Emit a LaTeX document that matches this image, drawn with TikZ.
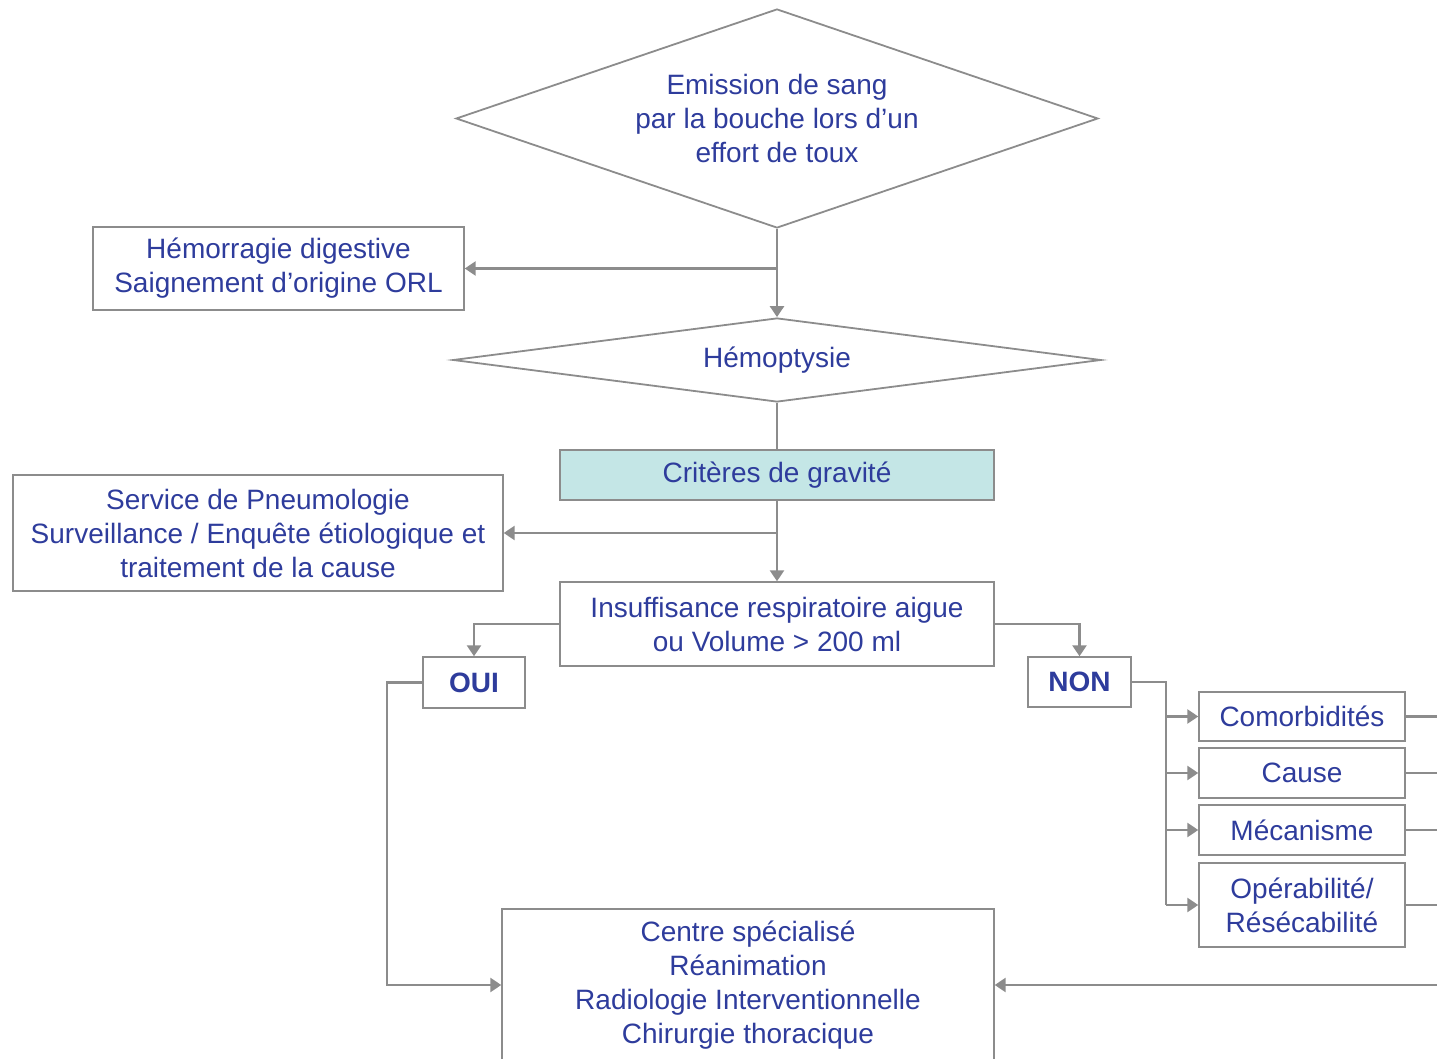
\documentclass[tikz,border=0pt]{standalone}
\usepackage{fontspec}
\setmainfont{Liberation Sans}
\definecolor{textBlue}{HTML}{2E3C9C}
\definecolor{lineGray}{HTML}{8C8C8C}
\definecolor{fillTeal}{HTML}{C4E6E6}
\usetikzlibrary{calc, positioning, shapes.geometric, arrows.meta}

\tikzset{
  box/.style={draw=lineGray, line width=0.7pt, inner sep=0pt, align=center,
              text=textBlue, font=\fontsize{14}{17}\selectfont},
  decision/.style={box, diamond, line width=0.9pt},
  conn/.style={draw=lineGray, line width=1.3pt, -{Triangle[length=5.5pt,width=7pt]}},
  link/.style={draw=lineGray, line width=1.3pt},
}

\begin{document}
\begin{tikzpicture}[x=0.5pt, y=-0.5pt]
  \useasboundingbox (0,0) rectangle (1437,1059);
  \clip (0,0) rectangle (1437,1059);

  % decisions
  \node[decision, aspect=2.93, minimum width=321pt, minimum height=109.5pt] (emission) at (777,118.5)
    {Emission de sang\\par la bouche lors d'un\\effort de toux};
  \node[decision, aspect=7.7, minimum width=324pt, minimum height=42pt] (hemoptysie) at (777,360) {Hémoptysie};

  % boxes
  \node[box, minimum width=185.5pt, minimum height=41.5pt] (hemorragie) at (278.5,268.5)
    {Hémorragie digestive\\Saignement d'origine ORL};
  \node[box, fill=fillTeal, minimum width=217pt, minimum height=25pt] (criteres) at (777,475) {Critères de gravité};
  \node[box, minimum width=245pt, minimum height=58pt] (service) at (258,533)
    {Service de Pneumologie\\Surveillance / Enquête étiologique et\\traitement de la cause};
  \node[box, minimum width=217pt, minimum height=42pt] (insuff) at (777,624)
    {Insuffisance respiratoire aigue\\ou Volume > 200 ml};
  \node[box, font=\fontsize{14}{17}\selectfont\bfseries, minimum width=51pt, minimum height=25.5pt] (oui) at (474,682.5) {OUI};
  \node[box, font=\fontsize{14}{17}\selectfont\bfseries, minimum width=51.5pt, minimum height=25pt] (non) at (1079.5,682) {NON};

  % criteria on the right
  \node[box, minimum width=103pt, minimum height=24.5pt] (comorb) at (1302,716.5) {Comorbidités};
  \node[box, minimum width=103pt, minimum height=25pt] (cause) at (1302,773) {Cause};
  \node[box, minimum width=103pt, minimum height=25pt] (meca) at (1302,830) {Mécanisme};
  \node[box, minimum width=103pt, minimum height=42pt] (operab) at (1302,905) {Opérabilité/\\Résécabilité};

  \node[box, minimum width=246pt, minimum height=76pt] (centre) at (748,985)
    {Centre spécialisé\\Réanimation\\Radiologie Interventionnelle\\Chirurgie thoracique};

  % bus coordinates
  \coordinate (nonbus) at (1166,682);
  \coordinate (ouibus) at (387,682.5);
  \coordinate (rbus) at (1460,0);

  % connectors
  \draw[conn] (emission.south) -- (hemoptysie.north);
  \draw[conn] (emission.south |- hemorragie.east) -- (hemorragie.east);
  \draw[draw=lineGray, line width=0.65pt] (hemoptysie.south) -- (criteres.north);
  \draw[conn] (criteres.south) -- (insuff.north);
  \draw[conn] (criteres.south |- service.east) -- (service.east);
  \draw[conn] (insuff.west) -| (oui.north);
  \draw[conn] (insuff.east) -| (non.north);

  \draw[conn] (oui.west) -- (ouibus) |- (centre.west);

  \draw[link] (non.east) -- (nonbus) -- (nonbus |- operab.west);
  \foreach \crit in {comorb, cause, meca, operab}
    \draw[conn] (nonbus |- \crit.west) -- (\crit.west);

  \foreach \crit in {cause, meca, operab}
    \draw[link] (\crit.east) -- (rbus |- \crit.east);
  \draw[conn] (comorb.east) -- (rbus |- comorb.east) |- (centre.east);
\end{tikzpicture}
\end{document}
